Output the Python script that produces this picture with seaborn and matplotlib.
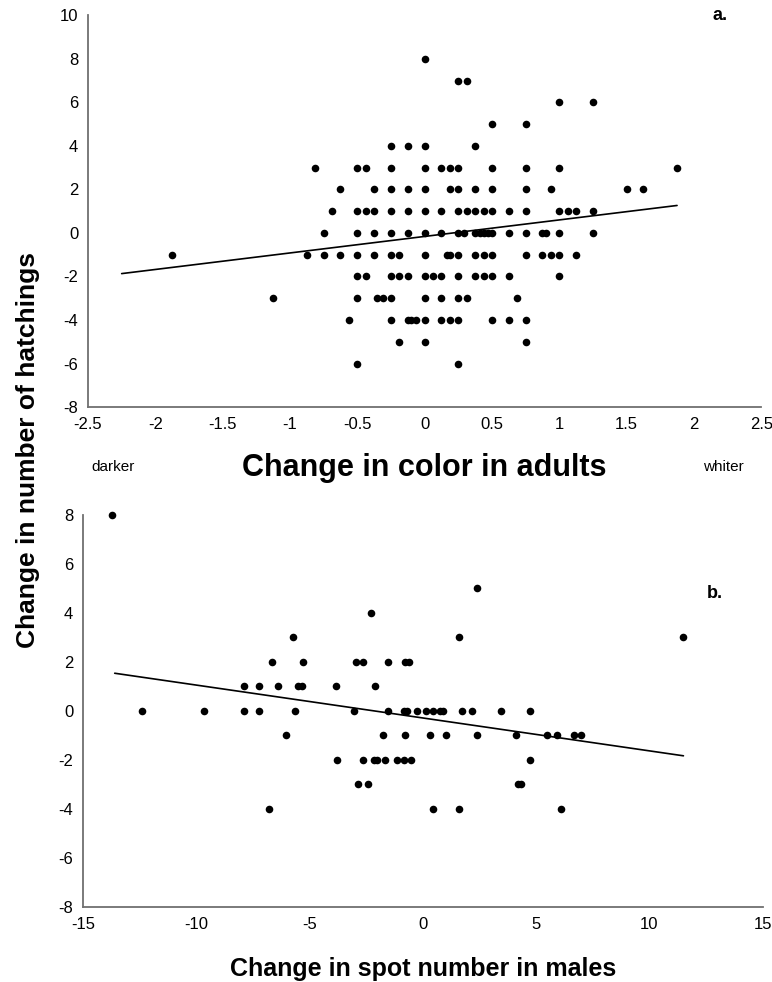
import matplotlib
matplotlib.use("Agg")
import matplotlib.pyplot as plt
import seaborn as sns
import numpy as np
import pandas as pd

# ---------------- data: panel a ----------------
top_x = [0,
         0.25, 0.3125,
         1.0, 1.25,
         0.5, 0.75,
         -0.25, -0.125, 0, 0.375,
         -0.8125, -0.5, -0.4375, -0.25, 0, 0.125, 0.1875, 0.25, 0.5, 0.75, 1.0, 1.875,
         -0.625, -0.375, -0.25, -0.125, 0, 0.1875, 0.25, 0.375, 0.5, 0.75, 0.9375, 1.5, 1.625,
         -0.6875, -0.5, -0.4375, -0.375, -0.25, -0.125, 0, 0.125, 0.25, 0.3125, 0.375, 0.4375, 0.5,
         0.625, 0.75, 1.0, 1.0625, 1.125, 1.25,
         -0.75, -0.5, -0.375, -0.25, -0.125, 0, 0.125, 0.25, 0.29, 0.375, 0.41, 0.44, 0.47, 0.5,
         0.625, 0.75, 0.875, 0.9, 1.0, 1.25,
         -1.875, -0.875, -0.75, -0.625, -0.5, -0.375, -0.25, -0.1875, 0, 0.1667, 0.1875, 0.25,
         0.375, 0.4375, 0.5, 0.75, 0.875, 0.9375, 1.0, 1.125,
         -0.5, -0.4375, -0.25, -0.1875, -0.125, 0, 0.0625, 0.125, 0.25, 0.375, 0.4375, 0.5, 0.625, 1.0,
         -1.125, -0.5, -0.35, -0.3125, -0.25, 0, 0.125, 0.25, 0.3125, 0.6875,
         -0.5625, -0.25, -0.125, -0.1, -0.0625, 0, 0.125, 0.1875, 0.25, 0.5, 0.625, 0.75,
         -0.1875, 0, 0.75,
         -0.5, 0.25]
top_y = ([8] + [7] * 2 + [6] * 2 + [5] * 2 + [4] * 4 + [3] * 12 + [2] * 13 + [1] * 19 +
         [0] * 20 + [-1] * 20 + [-2] * 14 + [-3] * 10 + [-4] * 12 + [-5] * 3 + [-6] * 2)
top_trend_x = [-2.25, 1.875]
top_trend_y = [-1.87, 1.26]

# ---------------- data: panel b ----------------
bot_x = [-13.7,
         2.4,
         -2.3,
         -5.75, 1.6, 11.5,
         -6.67, -5.28, -2.93, -2.66, -1.54, -0.8, -0.6,
         -7.88, -7.25, -6.38, -5.5, -5.35, -3.84, -2.13,
         -12.38, -9.67, -7.88, -7.25, -5.63, -3.04, -1.54, -0.85, -0.7, -0.28, 0.12, 0.45, 0.75,
         0.9, 1.73, 2.19, 3.47, 4.75,
         -6.03, -1.78, -0.79, 0.32, 1.0, 2.37, 4.1, 5.48, 5.9, 6.66, 6.97,
         -3.81, -2.66, -2.16, -2.01, -1.68, -1.16, -0.84, -0.53, 4.75,
         -2.88, -2.41, 4.2, 4.35,
         -6.8, 0.46, 1.61, 6.11]
bot_y = ([8] + [5] + [4] + [3] * 3 + [2] * 7 + [1] * 7 + [0] * 18 + [-1] * 11 +
         [-2] * 9 + [-3] * 4 + [-4] * 4)
bot_trend_x = [-13.6, 11.5]
bot_trend_y = [1.54, -1.83]

top_xticks = [-2.5, -2, -1.5, -1, -0.5, 0, 0.5, 1, 1.5, 2, 2.5]
top_yticks = [-8, -6, -4, -2, 0, 2, 4, 6, 8, 10]
bot_xticks = [-15, -10, -5, 0, 5, 10, 15]
bot_yticks = [-8, -6, -4, -2, 0, 2, 4, 6, 8]

# ---------------- style ----------------
sns.set_style("white")
plt.rcParams['font.family'] = ['Liberation Sans', 'DejaVu Sans']
plt.rcParams['text.color'] = 'black'
plt.rcParams['axes.labelcolor'] = 'black'

fig = plt.figure(figsize=(7.72, 9.82), dpi=100)
ax1 = fig.add_axes([0.114, 0.5855, 0.872, 0.399])
ax2 = fig.add_axes([0.1075, 0.0764, 0.8805, 0.3992])

df_top = pd.DataFrame({"x": top_x, "y": top_y})
df_bot = pd.DataFrame({"x": bot_x, "y": bot_y})

spine_col = "#707070"

for ax, df, tx, ty, xt, yt in [(ax1, df_top, top_trend_x, top_trend_y, top_xticks, top_yticks),
                               (ax2, df_bot, bot_trend_x, bot_trend_y, bot_xticks, bot_yticks)]:
    sns.scatterplot(data=df, x="x", y="y", ax=ax, color="black", s=30,
                    edgecolor="black", linewidth=0, clip_on=False, zorder=3)
    sns.lineplot(x=tx, y=ty, ax=ax, color="black", linewidth=1.2, zorder=2)
    ax.set_xlim(xt[0], xt[-1])
    ax.set_ylim(yt[0], yt[-1])
    ax.set_xticks(xt)
    ax.set_yticks(yt)
    ax.set_xticklabels([f"{v:g}" for v in xt])
    ax.set_yticklabels([f"{v:g}" for v in yt])
    for s in ["top", "right"]:
        ax.spines[s].set_visible(False)
    for s in ["left", "bottom"]:
        ax.spines[s].set_color(spine_col)
        ax.spines[s].set_linewidth(1.3)
    ax.tick_params(axis="both", direction="out", length=4, width=1.1, color=spine_col,
                   labelcolor="black", labelsize=12, pad=3)
    ax.set_ylabel("")

ax1.set_xlabel("Change in color in adults", fontsize=22, fontweight="bold")
ax1.xaxis.set_label_coords(0.5, -0.155)
ax1.xaxis.label.set_va("center")
ax2.set_xlabel("Change in spot number in males", fontsize=18, fontweight="bold")
ax2.xaxis.set_label_coords(0.5, -0.157)
ax2.xaxis.label.set_va("center")

ax1.text(0.939, 1.0, "a.", transform=ax1.transAxes, fontsize=13, fontweight="bold",
         ha="center", va="center")
ax2.text(0.93, 0.80, "b.", transform=ax2.transAxes, fontsize=13, fontweight="bold",
         ha="center", va="center")

fig.text(0.146, 0.524, "darker", fontsize=11, ha="center", va="center")
fig.text(0.937, 0.524, "whiter", fontsize=11, ha="center", va="center")

fig.text(0.036, 0.542, "Change in number of hatchings", rotation=90, fontsize=19,
         fontweight="bold", ha="center", va="center")

fig.savefig("out.png", dpi=100)
